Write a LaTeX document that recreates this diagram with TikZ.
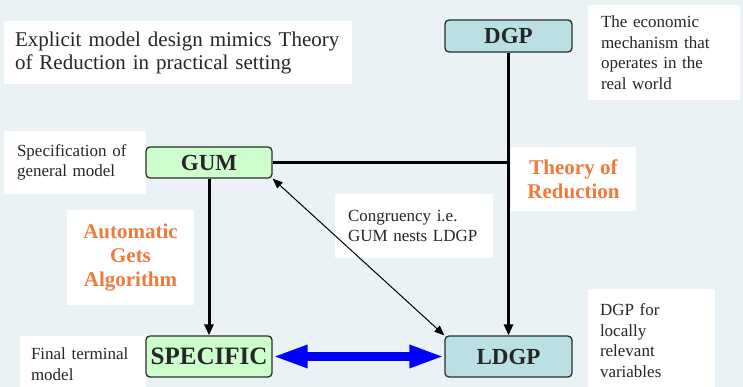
\documentclass[tikz,border=0pt]{standalone}
\usepackage{fontspec}
\setmainfont{Liberation Serif}
\usetikzlibrary{arrows.meta}
\definecolor{bg}{RGB}{234,242,246}
\definecolor{txt}{RGB}{38,38,38}
\definecolor{bord}{RGB}{45,45,45}
\definecolor{gumgreen}{RGB}{204,255,204}
\definecolor{teal}{RGB}{186,224,227}
\definecolor{orng}{RGB}{240,122,58}
\begin{document}
\begin{tikzpicture}[x=1pt,y=-1pt,
  note/.style={fill=white, inner ysep=0pt, align=left, text=txt,
    font=\fontsize{17}{20.5}\selectfont},
  mbox/.style={draw=bord, line width=1.3pt, rounded corners=4pt, text=txt,
    inner sep=0pt, font=\fontsize{23}{23}\bfseries\selectfont},
  orangebox/.style={fill=white, align=center, text=orng, inner sep=0pt,
    font=\fontsize{21}{24}\bfseries\selectfont},
  conn/.style={line width=3pt, -{Triangle[length=11pt,width=9pt]}},
  thinconn/.style={line width=1pt, {Triangle[length=10pt,width=8pt]}-{Triangle[length=10pt,width=8pt]}},
  blueconn/.style={draw=blue, line width=8.5pt, {Triangle[length=35pt,width=21pt]}-{Triangle[length=35pt,width=21pt]}}
]
\fill[bg] (0,0) rectangle (743,387);
\useasboundingbox (0,0) rectangle (743,387);

% white notes
\node[note, inner xsep=11pt, text width=326pt, minimum height=63pt,
  font=\fontsize{21}{23}\selectfont] (title) at (178,52.5)
  {Explicit model design mimics Theory\\ of Reduction in practical setting};
\node[note, inner xsep=13pt, text width=126pt, minimum height=95pt] (dgpnote) at (664,52.5)
  {The economic\\ mechanism that\\ operates in the\\ real world};
\node[note, inner xsep=13pt, text width=116pt, minimum height=63pt] (specnote) at (75,162.5)
  {Specification of\\ general model};
\node[note, inner xsep=13pt, text width=132pt, minimum height=63pt] (congnote) at (414,226)
  {Congruency i.e.\\ GUM nests LDGP};
\node[note, inner xsep=11pt, text width=104pt, minimum height=56pt] (finalnote) at (83,364)
  {Final terminal\\ model};
\node[note, inner xsep=12pt, text width=103pt, minimum height=103pt] (ldgpnote) at (651.5,340.5)
  {DGP for\\ locally\\ relevant\\ variables};
\node[orangebox, minimum width=125pt, minimum height=64pt] (theory) at (573.5,179)
  {Theory of\\ Reduction};
\node[orangebox, minimum width=127pt, minimum height=95pt] (gets) at (130.5,257.5)
  {Automatic\\ Gets\\ Algorithm};

% main boxes
\node[mbox, fill=teal, minimum width=127pt, minimum height=32pt] (dgp) at (508.5,36) {DGP};
\node[mbox, fill=gumgreen, minimum width=126pt, minimum height=31pt] (gum) at (209,162.5) {GUM};
\node[mbox, fill=gumgreen, minimum width=126pt, minimum height=41pt,
  font=\fontsize{25}{25}\bfseries\selectfont] (spec) at (209,356.5) {SPECIFIC};
\node[mbox, fill=teal, minimum width=127pt, minimum height=41pt] (ldgp) at (508.5,356.5) {LDGP};

% connectors
\draw[conn] (dgp.south) -- (ldgp.north);
\draw[line width=3pt] (gum.east) -- (gum.east -| dgp.south);
\draw[conn] (gum.south) -- (spec.north);
\draw[thinconn] (gum.south east) -- (ldgp.north west);
\draw[blueconn] (spec.east) -- (ldgp.west);
\end{tikzpicture}
\end{document}
